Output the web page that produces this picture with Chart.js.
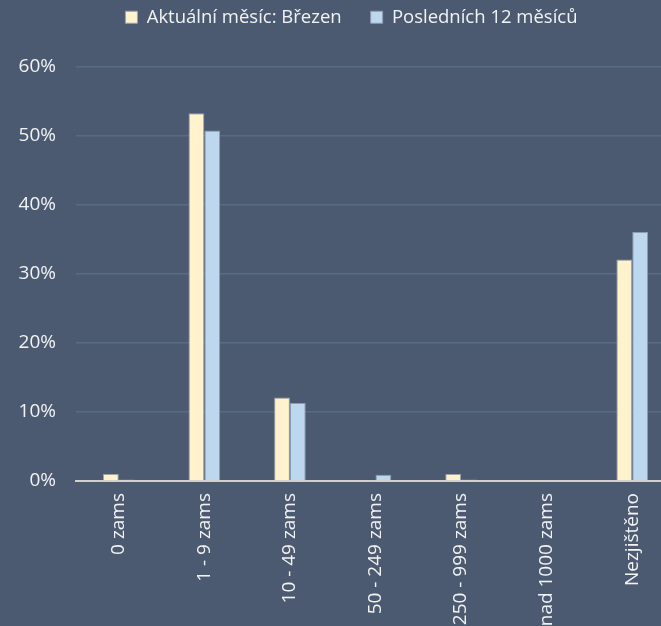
<!DOCTYPE html>
<html>
<head>
<meta charset="utf-8">
<script src="https://cdn.jsdelivr.net/npm/chart.js@4"></script>
<style>
    html, body { margin: 0; padding: 0; overflow: hidden; background: #4b5a71; }
    #wrap { width: 675px; height: 626px; }
</style>
</head>
<body>
<div id="wrap"><canvas id="sizeChart" width="675" height="626"></canvas></div>
<script>
const categories = ['0 zams', '1 - 9 zams', '10 - 49 zams', '50 - 249 zams', '250 - 999 zams', 'nad 1000 zams', 'Nezjištěno'];
const currentMonth = [1.0, 53.3, 12.1, 0, 1.0, 0, 32.1];
const last12Months = [0.2, 50.8, 11.3, 0.9, 0.2, 0, 36.1];
const yTicks = [0, 10, 20, 30, 40, 50, 60];

const textColor = '#f2f2f2';
const fontFamily = '"Open Sans", "Noto Sans", sans-serif';

// legend gets extra room below it and sits a bit right of centre
const legendTweak = {
    id: 'legendTweak',
    beforeInit(chart) {
        const fit = chart.legend.fit;
        chart.legend.fit = function () {
            fit.bind(chart.legend)();
            this.height = 88;
        };
    },
    afterLayout(chart) {
        chart.legend.left += 14;
        chart.legend.right += 14;
    }
};

const ctx = document.getElementById('sizeChart').getContext('2d');

const sizeChart = new Chart(ctx, {
    type: 'bar',
    data: {
        labels: categories,
        datasets: [
            {
                label: 'Aktuální měsíc: Březen',
                data: currentMonth,
                backgroundColor: '#fff2cc',
                borderColor: '#9aa2ad',
                borderWidth: 1
            },
            {
                label: 'Posledních 12 měsíců',
                data: last12Months,
                backgroundColor: '#bdd7ee',
                borderColor: '#8e9cad',
                borderWidth: 1
            }
        ]
    },
    plugins: [legendTweak],
    options: {
        responsive: false,
        animation: false,
        layout: { padding: { top: -21, right: 0, bottom: 0, left: 0 } },
        datasets: {
            bar: { categoryPercentage: 0.37, barPercentage: 1 }
        },
        plugins: {
            legend: {
                position: 'top',
                labels: {
                    color: textColor,
                    font: { family: fontFamily, size: 18.5 },
                    boxWidth: 12,
                    boxHeight: 12,
                    padding: 29
                }
            },
            tooltip: { enabled: false }
        },
        scales: {
            x: {
                grid: { display: false, drawTicks: false },
                border: { color: '#d0d0d0', width: 2 },
                ticks: {
                    color: textColor,
                    font: { family: fontFamily, size: 19 },
                    minRotation: 90,
                    maxRotation: 90,
                    autoSkip: false,
                    padding: 12
                },
                afterFit: (scale) => { scale.height = 626 - 481; }
            },
            y: {
                min: 0,
                max: 60,
                afterBuildTicks: (scale) => { scale.ticks = yTicks.map(v => ({ value: v })); },
                grid: { color: '#586a84', drawTicks: false, lineWidth: 1.5 },
                border: { display: false },
                ticks: {
                    color: textColor,
                    font: { family: fontFamily, size: 19 },
                    padding: 20,
                    callback: (v) => v + '%'
                },
                afterFit: (scale) => { scale.width = 76; }
            }
        }
    }
});
</script>
</body>
</html>
